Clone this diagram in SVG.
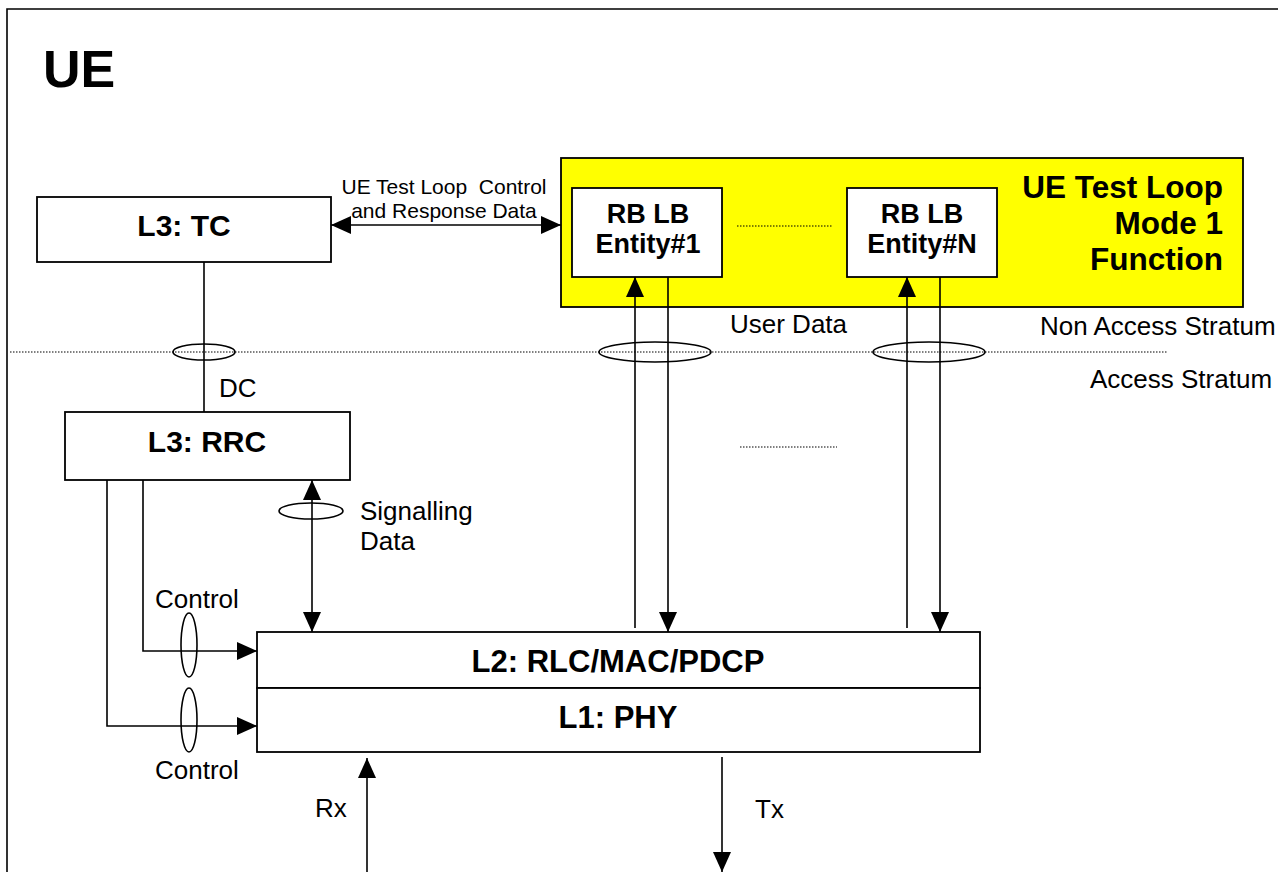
<svg xmlns="http://www.w3.org/2000/svg" width="1278" height="872" viewBox="0 0 1278 872">
<style>
.box{fill:#fff;stroke:#000;stroke-width:1.8}
.b{font-family:"Liberation Sans",Arial,sans-serif;font-weight:bold;fill:#000}
.r{font-family:"Liberation Sans",Arial,sans-serif;fill:#000;font-size:26px}
.s{font-family:"Liberation Sans",Arial,sans-serif;fill:#000;font-size:21px;white-space:pre}
.ln{fill:none;stroke:#000;stroke-width:1.6}
.dot{fill:none;stroke:#000;stroke-width:1.2;stroke-dasharray:1.5,1.5}
.el{fill:none;stroke:#000;stroke-width:1.6}
</style>
<defs>
<marker id="ah" markerWidth="20" markerHeight="18" refX="20" refY="9" orient="auto-start-reverse" markerUnits="userSpaceOnUse">
<path d="M0,0 L20,9 L0,18 z" fill="#000"/>
</marker>
</defs>
<rect width="1278" height="872" fill="#fff"/>
<g id="frame">
<path d="M7,880 L7,9 L1290,9" class="ln" stroke-width="1.8"/>
<text x="43" y="87" class="b" font-size="52">UE</text>
</g>
<g id="tc">
<rect x="37" y="197" width="294" height="65" class="box"/>
<text x="184" y="236" class="b" font-size="30" text-anchor="middle">L3: TC</text>
</g>
<g id="testloop">
<rect x="561" y="158" width="682" height="149" fill="#ffff00" stroke="#000" stroke-width="1.8"/>
<text class="b" font-size="31.5" text-anchor="end"><tspan x="1223" y="198">UE Test Loop</tspan><tspan x="1223" y="234">Mode 1</tspan><tspan x="1223" y="270">Function</tspan></text>
</g>
<g id="entity1">
<rect x="572" y="188" width="150" height="89" class="box"/>
<text class="b" font-size="27" text-anchor="middle"><tspan x="648" y="223">RB LB</tspan><tspan x="648" y="253">Entity#1</tspan></text>
</g>
<g id="entityN">
<rect x="847" y="188" width="150" height="89" class="box"/>
<text class="b" font-size="27" text-anchor="middle"><tspan x="922" y="223">RB LB</tspan><tspan x="922" y="253">Entity#N</tspan></text>
</g>
<g id="rrc">
<rect x="65" y="412" width="285" height="68" class="box"/>
<text x="207" y="452" class="b" font-size="30" text-anchor="middle">L3: RRC</text>
</g>
<g id="l2">
<rect x="257" y="632" width="723" height="56" class="box"/>
<text x="618" y="672" class="b" font-size="31" text-anchor="middle">L2: RLC/MAC/PDCP</text>
</g>
<g id="l1">
<rect x="257" y="688" width="723" height="64" class="box"/>
<text x="618" y="728" class="b" font-size="31" text-anchor="middle">L1: PHY</text>
</g>
<g id="strata">
<line x1="10" y1="352" x2="1167" y2="352" class="dot"/>
<line x1="737" y1="226" x2="832" y2="226" class="dot"/>
<line x1="740" y1="447" x2="837" y2="447" class="dot"/>
<text x="1040" y="335" class="r">Non Access Stratum</text>
<text x="1090" y="388" class="r">Access Stratum</text>
</g>
<g id="connectors">
<line x1="331" y1="225" x2="561" y2="225" class="ln" marker-start="url(#ah)" marker-end="url(#ah)"/>
<line x1="204" y1="262" x2="204" y2="412" class="ln"/>
<line x1="635" y1="628" x2="635" y2="277" class="ln" marker-end="url(#ah)"/>
<line x1="668" y1="277" x2="668" y2="632" class="ln" marker-end="url(#ah)"/>
<line x1="907" y1="628" x2="907" y2="277" class="ln" marker-end="url(#ah)"/>
<line x1="940" y1="277" x2="940" y2="632" class="ln" marker-end="url(#ah)"/>
<line x1="312" y1="480" x2="312" y2="632" class="ln" marker-start="url(#ah)" marker-end="url(#ah)"/>
<polyline points="143,480 143,651 257,651" class="ln" marker-end="url(#ah)"/>
<polyline points="107,480 107,726 257,726" class="ln" marker-end="url(#ah)"/>
<line x1="367" y1="880" x2="367" y2="758" class="ln" marker-end="url(#ah)"/>
<line x1="722" y1="757" x2="722" y2="872" class="ln" marker-end="url(#ah)"/>
<ellipse cx="204" cy="352" rx="31" ry="8" class="el"/>
<ellipse cx="655" cy="352" rx="56" ry="10" class="el"/>
<ellipse cx="929" cy="352" rx="56" ry="10" class="el"/>
<ellipse cx="311" cy="511" rx="32" ry="8" class="el"/>
<ellipse cx="189" cy="645" rx="8" ry="32" class="el"/>
<ellipse cx="189" cy="720" rx="8" ry="32" class="el"/>
</g>
<g id="labels">
<text class="s" text-anchor="middle"><tspan x="444" y="194">UE Test Loop  Control</tspan><tspan x="444" y="218">and Response Data</tspan></text>
<text x="730" y="333" class="r">User Data</text>
<text x="219" y="397" class="r">DC</text>
<text class="r"><tspan x="360" y="520">Signalling</tspan><tspan x="360" y="550">Data</tspan></text>
<text x="155" y="608" class="r">Control</text>
<text x="155" y="779" class="r">Control</text>
<text x="315" y="817" class="r">Rx</text>
<text x="755" y="818" class="r">Tx</text>
</g>
</svg>
